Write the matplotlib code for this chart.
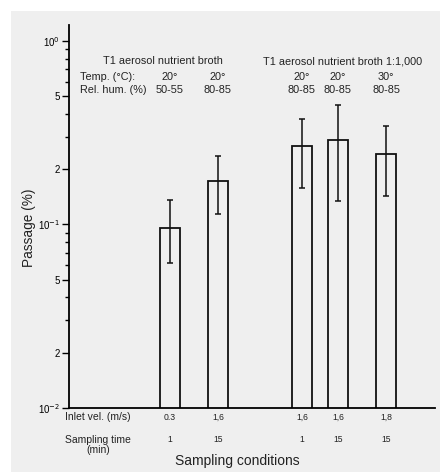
import matplotlib
matplotlib.use("Agg")
import matplotlib.pyplot as plt
from matplotlib.patches import Rectangle
from matplotlib.ticker import FixedLocator, NullFormatter

plt.rcParams['font.family'] = ['Liberation Sans', 'DejaVu Sans']

# ---- data ----
positions = [0, 1, 2.75, 3.5, 4.5]
passage = [0.096, 0.173, 0.269, 0.290, 0.241]
err_high = [0.136, 0.235, 0.377, 0.445, 0.342]
err_low = [0.0614, 0.114, 0.158, 0.135, 0.143]
temps = ["20°", "20°", "20°", "20°", "30°"]
hums = ["50-55", "80-85", "80-85", "80-85", "80-85"]
inlet_vel = ["0.3", "1,6", "1,6", "1,6", "1,8"]
samp_time = ["1", "15", "1", "15", "15"]
group_titles = ["T1 aerosol nutrient broth", "T1 aerosol nutrient broth 1:1,000"]
group_title_x = [-0.146, 3.6]
ytick_vals = [1, 0.5, 0.2, 0.1, 0.05, 0.02, 0.01]
ytick_labels = ["10$^0$", "5", "2", "10$^{-1}$", "5", "2", "10$^{-2}$"]
minor_vals = [m * d for d in (0.01, 0.1) for m in (3, 4, 6, 7, 8, 9)]

W, H = 440, 472
TOP, BOT = 25, 408
fig = plt.figure(figsize=(W / 100, H / 100), dpi=100, facecolor="white")
bg = fig.add_axes([11 / W, 0, 1 - 11 / W, 1 - 11 / H], zorder=-10)
bg.set_axis_off()
bg.add_patch(Rectangle((0, 0), 1, 1, transform=bg.transAxes, facecolor="#efefef",
                       edgecolor="none"))

ax = fig.add_axes([69 / W, 1 - BOT / H, (435 - 69) / W, (BOT - TOP) / H])
ax.set_facecolor("none")
ax.set_yscale("log")
ax.set_ylim(0.01, 1.22)
ax.set_xlim(-2.1, 5.52)


def fy(py):
    return (BOT - py) / (BOT - TOP)


def fx(px):
    return (px - 170) / 48


yerr = [[p - l for p, l in zip(passage, err_low)],
        [h - p for p, h in zip(passage, err_high)]]
ax.bar(positions, passage, width=0.42, bottom=0.0, facecolor="none",
       edgecolor="#111111", linewidth=1.3, zorder=2)
ax.errorbar(positions, passage, yerr=yerr, fmt="none", ecolor="#111111",
            elinewidth=1.1, capsize=2.2, capthick=1.1, zorder=3)

for s in ("top", "right"):
    ax.spines[s].set_visible(False)
for s in ("left", "bottom"):
    ax.spines[s].set_linewidth(1.3)
    ax.spines[s].set_color("black")

ax.yaxis.set_major_locator(FixedLocator(ytick_vals))
ax.set_yticklabels(ytick_labels, fontsize=7)
ax.yaxis.set_minor_locator(FixedLocator(minor_vals))
ax.yaxis.set_minor_formatter(NullFormatter())
ax.tick_params(axis="y", which="major", length=5, width=1, pad=1.5)
ax.tick_params(axis="y", which="minor", length=3, width=1)
ax.set_xticks([])

ax.set_ylabel("Passage (%)", fontsize=9.8, color="#222222")
ax.yaxis.set_label_coords(-0.09, fy(228))

tr = ax.get_xaxis_transform()
TC = "#222222"
for t, x in zip(group_titles, group_title_x):
    ax.text(x, fy(61), t, transform=tr, ha="center", va="center", fontsize=7.8, color=TC)
ax.text(fx(80), fy(77), "Temp. (°C):", transform=tr, ha="left", va="center",
        fontsize=7.8, color=TC)
ax.text(fx(80), fy(90), "Rel. hum. (%)", transform=tr, ha="left", va="center",
        fontsize=7.8, color=TC)
for x, t, h in zip(positions, temps, hums):
    ax.text(x, fy(77), t, transform=tr, ha="center", va="center", fontsize=7.8, color=TC)
    ax.text(x, fy(90), h, transform=tr, ha="center", va="center", fontsize=7.8, color=TC)

ax.text(fx(98), fy(417), "Inlet vel. (m/s)", transform=tr, ha="center", va="center",
        fontsize=7.5, color=TC)
ax.text(fx(98), fy(445), "Sampling time\n(min)", transform=tr, ha="center", va="center",
        fontsize=7.5, linespacing=1.1, color=TC)
for x, v, s in zip(positions, inlet_vel, samp_time):
    ax.text(x, fy(417), v, transform=tr, ha="center", va="center", fontsize=6.2, color=TC)
    ax.text(x, fy(439), s, transform=tr, ha="center", va="center", fontsize=6.2, color=TC)
ax.text(fx(237), fy(461), "Sampling conditions", transform=tr, ha="center",
        va="center", fontsize=10, color=TC)

fig.savefig("out.png", dpi=100, facecolor="white")
